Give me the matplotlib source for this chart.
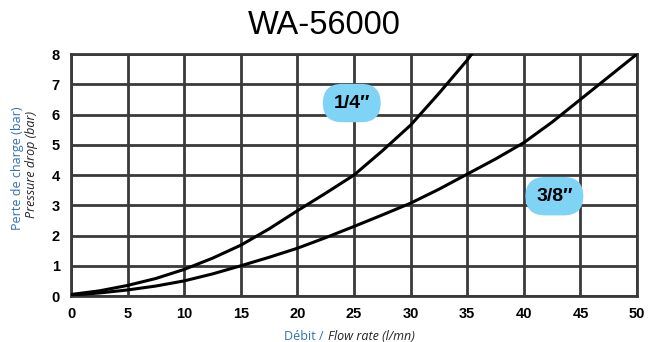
import matplotlib.pyplot as plt

plt.rcParams['font.family'] = ['Liberation Sans', 'DejaVu Sans']

# flow rate (l/mn) and pressure drop (bar)
flow_14 = [0, 2.5, 5, 7.5, 10, 12.5, 15, 17.5, 20, 22.5, 25, 27.5, 30, 32.5, 35, 35.4]
drop_14 = [0.05, 0.17, 0.35, 0.58, 0.88, 1.25, 1.68, 2.22, 2.82, 3.4, 4.0, 4.8, 5.65, 6.7, 7.8, 8.0]
flow_38 = [0, 2.5, 5, 7.5, 10, 12.5, 15, 17.5, 20, 22.5, 25, 27.5, 30, 32.5, 35, 37.5, 40, 42.5, 45, 47.5, 50]
drop_38 = [0.03, 0.1, 0.2, 0.33, 0.5, 0.73, 1.0, 1.28, 1.58, 1.93, 2.3, 2.68, 3.07, 3.53, 4.03, 4.53, 5.07, 5.75, 6.5, 7.25, 8.0]

xticks = [0, 5, 10, 15, 20, 25, 30, 35, 40, 45, 50]
yticks = [0, 1, 2, 3, 4, 5, 6, 7, 8]

fig = plt.figure(figsize=(6.48, 3.42), dpi=100)
ax = fig.add_axes([0.1096, 0.1345, 0.8735, 0.7075])

grid_c = '#3a3a3a'
for x in xticks:
    ax.axvline(x, color=grid_c, lw=2, zorder=1)
for y in yticks:
    ax.axhline(y, color=grid_c, lw=2, zorder=1)

ax.plot(flow_14, drop_14, color='black', lw=2.2, zorder=3)
ax.plot(flow_38, drop_38, color='black', lw=2.2, zorder=3)

bubble = dict(boxstyle='round,pad=0.55,rounding_size=1.0', fc='#7fd3f5', ec='none')
ax.text(24.8, 6.38, '1/4\u2033', ha='center', va='center', fontsize=14,
        fontweight='bold', bbox=bubble, zorder=5)
ax.text(42.7, 3.3, '3/8\u2033', ha='center', va='center', fontsize=14,
        fontweight='bold', bbox=bubble, zorder=5)

ax.set_xlim(0, 50)
ax.set_ylim(0, 8)
ax.set_xticks(xticks)
ax.set_yticks(yticks)
ax.tick_params(length=0, labelsize=10.5, pad=8)
for lab in ax.get_xticklabels() + ax.get_yticklabels():
    lab.set_fontweight('bold')
for s in ax.spines.values():
    s.set_color(grid_c)
    s.set_linewidth(2)

fig.text(0.5, 0.925, 'WA-56000', ha='center', va='center', fontsize=23.5)

blue = '#2f6fb5'
fig.text(18 / 648, 1 - 168 / 342, 'Perte de charge (bar)', rotation=90,
         ha='center', va='center', fontsize=9, color=blue, family='Open Sans')
fig.text(32 / 648, 1 - 164 / 342, 'Pressure drop (bar)', rotation=90,
         ha='center', va='center', fontsize=9, style='italic', color='#222222',
         family='Open Sans')
fig.text(324 / 648, 1 - 336 / 342, 'Débit /', ha='right', va='center',
         fontsize=9, color=blue, family='Open Sans')
fig.text(328 / 648, 1 - 336 / 342, 'Flow rate (l/mn)', ha='left', va='center',
         fontsize=9, style='italic', color='#222222', family='Open Sans')

fig.savefig('out.png', dpi=100)
